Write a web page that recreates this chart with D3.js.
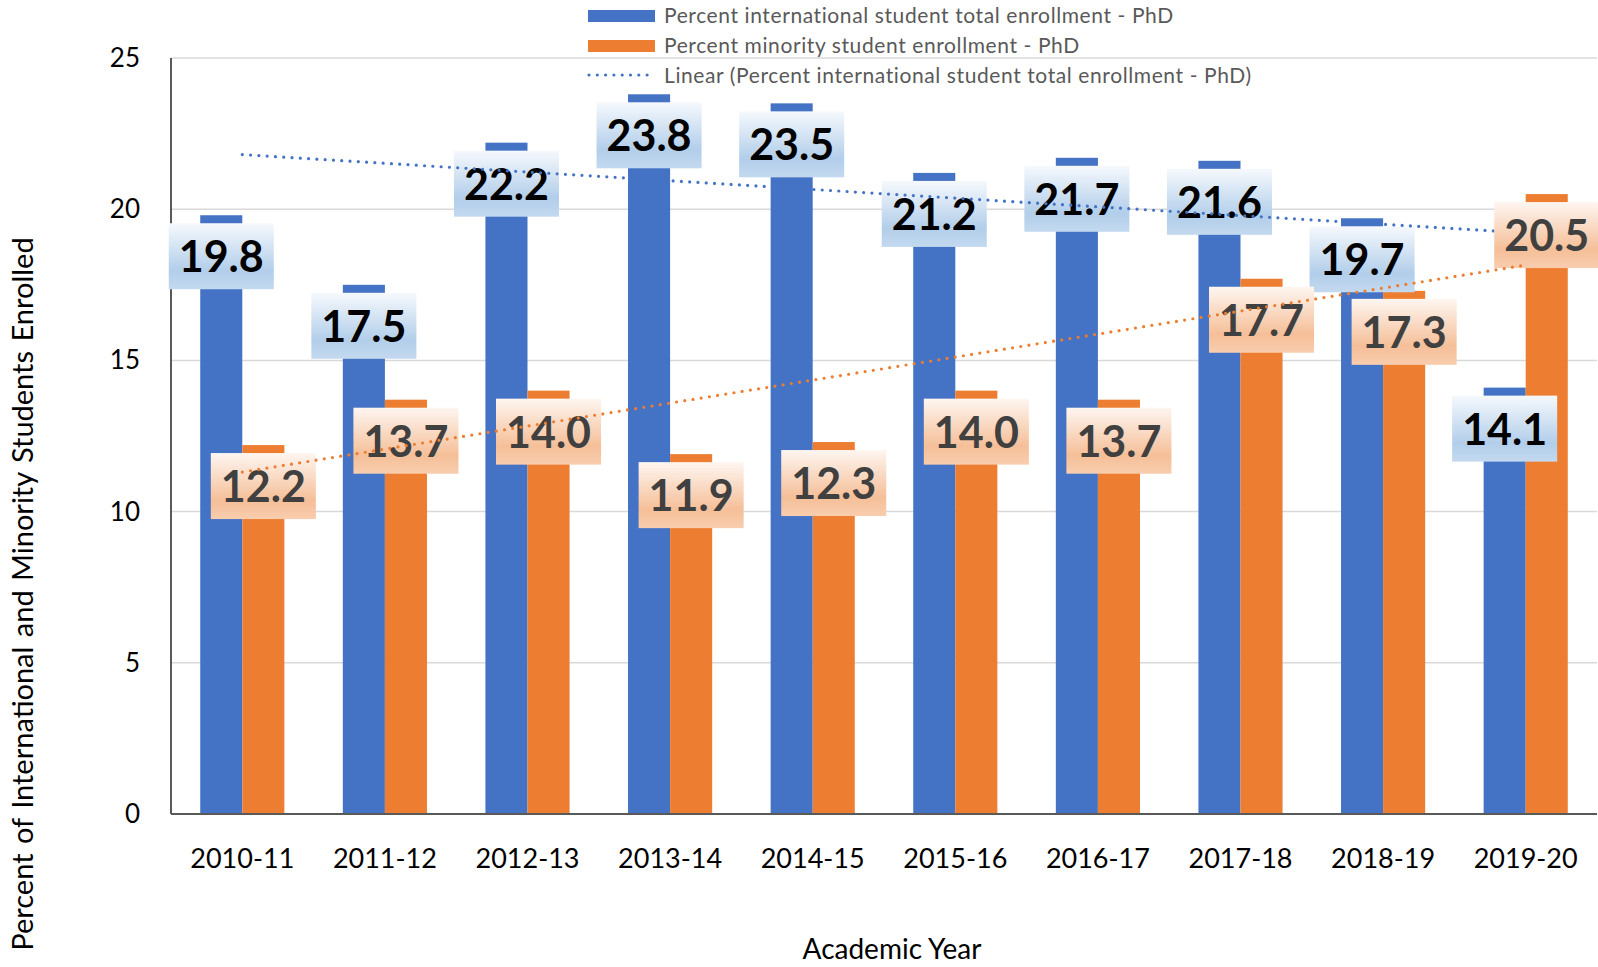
<!DOCTYPE html>
<html>
<head>
<meta charset="utf-8">
<script src="https://cdn.jsdelivr.net/npm/d3@7/dist/d3.min.js"></script>
<style>
  body { margin: 0; background: #fff; }
  text { font-family: Lato, "Open Sans", sans-serif; }
</style>
</head>
<body>
<div id="chart"></div>
<script>
var years = ["2010-11", "2011-12", "2012-13", "2013-14", "2014-15",
             "2015-16", "2016-17", "2017-18", "2018-19", "2019-20"];
var intlPct = [19.8, 17.5, 22.2, 23.8, 23.5, 21.2, 21.7, 21.6, 19.7, 14.1];
var minorityPct = [12.2, 13.7, 14.0, 11.9, 12.3, 14.0, 13.7, 17.7, 17.3, 20.5];
var yTicks = [0, 5, 10, 15, 20, 25];
var seriesNames = ["Percent international student total enrollment - PhD",
                   "Percent minority student enrollment - PhD"];
var trendName = "Linear (Percent international student total enrollment - PhD)";

(function chart() {

  var width = 1598;
  var height = 967;

  var margin = { top: 58, bottom: 153, left: 171, right: 1 };

  var blue = '#4472c4';
  var orange = '#ed7d31';

  var svg = d3.select('#chart')
    .append('svg')
    .attr('width', width)
    .attr('height', height);

  var defs = svg.append('defs');

  function gradient(id, stops) {
    var g = defs.append('linearGradient')
      .attr('id', id)
      .attr('x1', 0).attr('y1', 0).attr('x2', 0).attr('y2', 1);
    stops.forEach(function(s) {
      g.append('stop').attr('offset', s[0]).attr('stop-color', s[1]);
    });
  }
  gradient('gradBlue', [[0, '#f6f9fd'], [0.72, '#b2ceea'], [1, '#c3d9ef']]);
  gradient('gradOrange', [[0, '#fef6f1'], [0.72, '#f5bf98'], [1, '#f8cdae']]);

  var x = d3.scaleBand()
    .domain(years)
    .range([margin.left, width - margin.right])
    .paddingInner(0.41)
    .paddingOuter(0.205);

  var x1 = d3.scaleBand()
    .domain([0, 1])
    .range([0, x.bandwidth()]);

  var y = d3.scaleLinear()
    .domain([0, 25])
    .range([height - margin.bottom, margin.top]);

  // gridlines
  svg.append('g')
    .selectAll('line')
    .data(yTicks.slice(1))
    .enter()
    .append('line')
    .attr('x1', margin.left)
    .attr('x2', width - margin.right)
    .attr('y1', function(d) { return y(d); })
    .attr('y2', function(d) { return y(d); })
    .attr('stroke', '#d9d9d9')
    .attr('stroke-width', 1.5);

  // bars
  var series = [intlPct, minorityPct];
  var colors = [blue, orange];

  series.forEach(function(vals, s) {
    svg.append('g')
      .selectAll('rect')
      .data(vals)
      .enter()
      .append('rect')
      .attr('x', function(d, i) { return x(years[i]) + x1(s); })
      .attr('y', function(d) { return y(d); })
      .attr('width', x1.bandwidth())
      .attr('height', function(d) { return y(0) - y(d); })
      .attr('fill', colors[s]);
  });

  // axes lines
  svg.append('line')
    .attr('x1', margin.left).attr('x2', margin.left)
    .attr('y1', y(25)).attr('y2', y(0))
    .attr('stroke', '#595959').attr('stroke-width', 2);
  svg.append('line')
    .attr('x1', margin.left).attr('x2', width - margin.right)
    .attr('y1', y(0)).attr('y2', y(0))
    .attr('stroke', '#595959').attr('stroke-width', 2);

  // y tick labels
  svg.append('g')
    .selectAll('text')
    .data(yTicks)
    .enter()
    .append('text')
    .attr('x', 140)
    .attr('y', function(d) { return y(d) + 9; })
    .attr('text-anchor', 'end')
    .style('font-size', '26px')
    .attr('fill', '#000')
    .text(function(d) { return d; });

  // x tick labels
  svg.append('g')
    .selectAll('text')
    .data(years)
    .enter()
    .append('text')
    .attr('x', function(d) { return x(d) + x.bandwidth() / 2; })
    .attr('y', 868)
    .attr('text-anchor', 'middle')
    .style('font-size', '27px')
    .attr('fill', '#000')
    .text(function(d) { return d; });

  // axis titles
  svg.append('text')
    .attr('transform', 'translate(33,594) rotate(-90)')
    .attr('text-anchor', 'middle')
    .style('font-size', '29px')
    .style('word-spacing', '2px')
    .attr('fill', '#000')
    .text('Percent of International and Minority Students Enrolled');

  svg.append('text')
    .attr('x', 892)
    .attr('y', 959)
    .attr('text-anchor', 'middle')
    .style('font-size', '28px')
    .attr('fill', '#000')
    .text('Academic Year');

  // least squares trend over category index
  function trend(vals) {
    var n = vals.length;
    var mx = d3.mean(vals, function(d, i) { return i + 1; });
    var my = d3.mean(vals);
    var sxy = 0, sxx = 0;
    vals.forEach(function(v, i) {
      sxy += (i + 1 - mx) * (v - my);
      sxx += (i + 1 - mx) * (i + 1 - mx);
    });
    var slope = sxy / sxx;
    return [
      [years[0], my + slope * (1 - mx)],
      [years[n - 1], my + slope * (n - mx)]
    ];
  }

  var line = d3.line()
    .x(function(d) { return x(d[0]) + x.bandwidth() / 2; })
    .y(function(d) { return y(d[1]); });

  function drawLabels(vals, s) {
    var g = svg.append('g');
    vals.forEach(function(v, i) {
      var cx = x(years[i]) + x1(s) + x1.bandwidth() / 2;
      var top = y(v) + 8;
      var lg = g.append('g');
      var box = lg.append('rect');
      var t = lg.append('text')
        .attr('x', cx)
        .attr('y', top + 49)
        .attr('text-anchor', 'middle')
        .style('font-size', '43px')
        .style('font-weight', 'bold')
        .attr('fill', s === 0 ? '#000' : '#404040')
        .text(v.toFixed(1));
      var w = t.node().getComputedTextLength() + 20;
      box.attr('x', cx - w / 2)
        .attr('y', top)
        .attr('width', w)
        .attr('height', 66)
        .attr('fill', s === 0 ? 'url(#gradBlue)' : 'url(#gradOrange)');
    });
  }

  function drawTrend(vals, color) {
    svg.append('path')
      .datum(trend(vals))
      .attr('d', line)
      .attr('fill', 'none')
      .attr('stroke', color)
      .attr('stroke-width', 3.2)
      .attr('stroke-linecap', 'round')
      .attr('stroke-dasharray', '0 8.3');
  }

  drawLabels(intlPct, 0);
  drawTrend(intlPct, blue);
  drawLabels(minorityPct, 1);
  drawTrend(minorityPct, orange);

  // legend
  var legend = svg.append('g');
  legend.append('rect')
    .attr('x', 588).attr('y', 10).attr('width', 67).attr('height', 12)
    .attr('fill', blue);
  legend.append('rect')
    .attr('x', 588).attr('y', 40).attr('width', 67).attr('height', 12)
    .attr('fill', orange);
  legend.append('line')
    .attr('x1', 589).attr('x2', 655).attr('y1', 75).attr('y2', 75)
    .attr('stroke', blue)
    .attr('stroke-width', 3.2)
    .attr('stroke-linecap', 'round')
    .attr('stroke-dasharray', '0 8.3');

  legend.selectAll('text')
    .data([seriesNames[0], seriesNames[1], trendName])
    .enter()
    .append('text')
    .attr('x', 664)
    .attr('y', function(d, i) { return 23 + i * 30; })
    .style('font-size', '21px')
    .style('letter-spacing', '0.6px')
    .attr('fill', '#595959')
    .text(function(d) { return d; });

})();
</script>
</body>
</html>
